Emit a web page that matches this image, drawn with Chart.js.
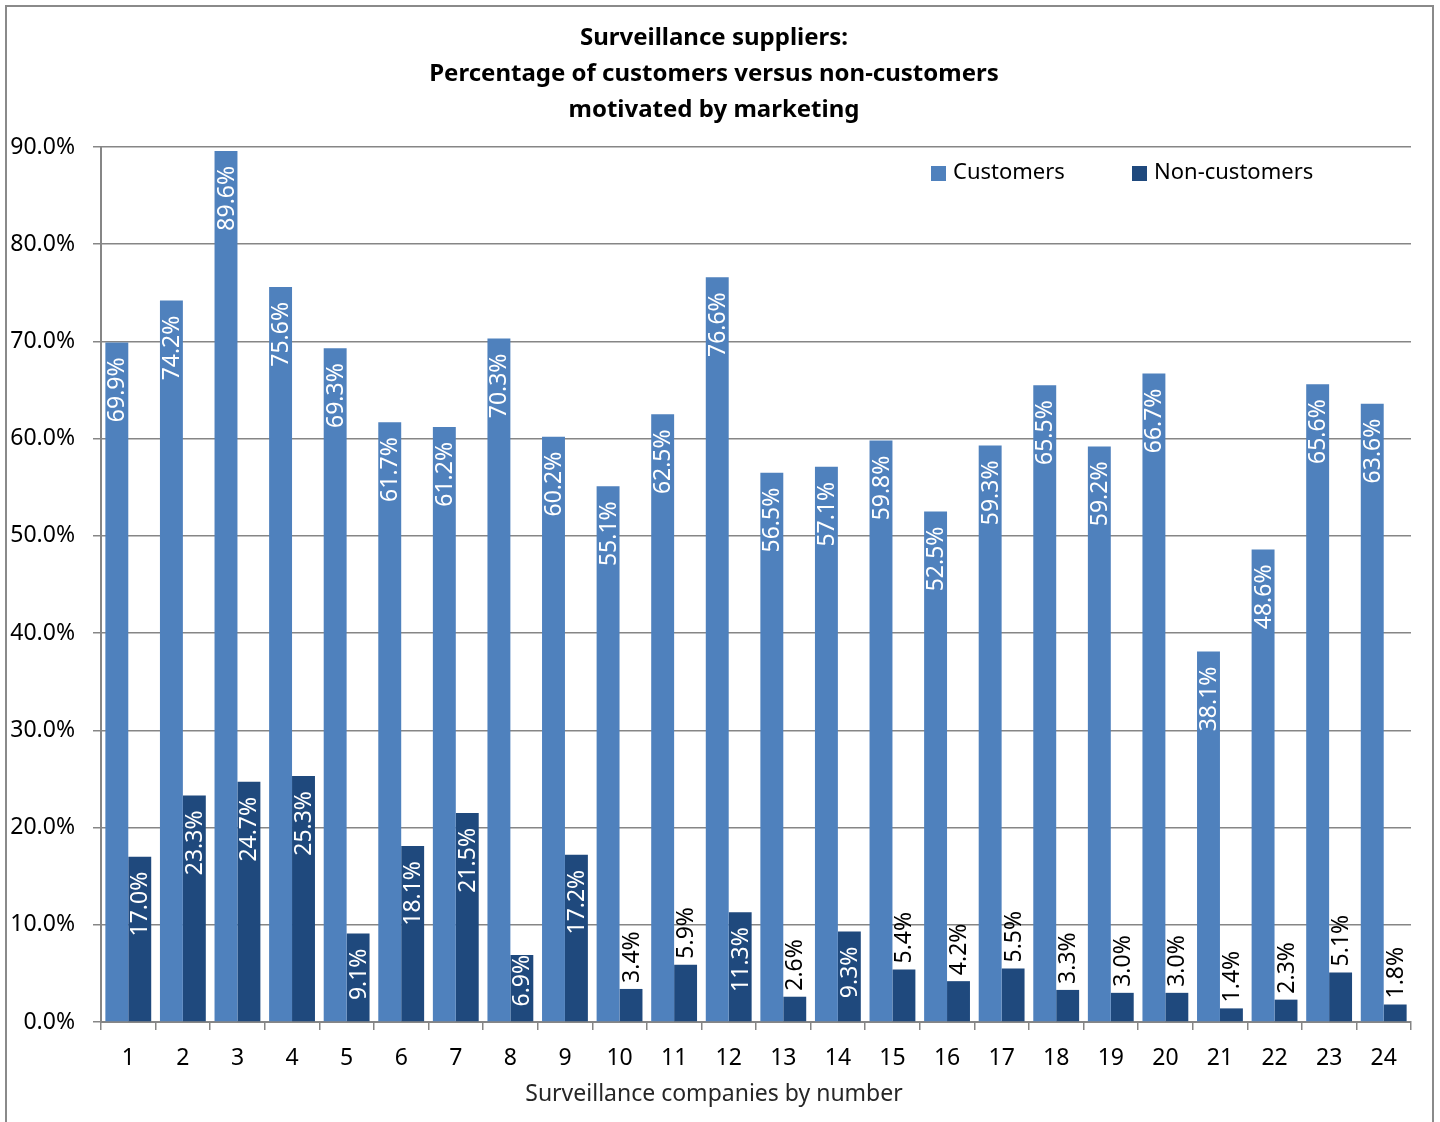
<!DOCTYPE html>
<html>
<head>
<meta charset="utf-8">
<script src="https://cdn.jsdelivr.net/npm/chart.js@4/dist/chart.umd.min.js"></script>
<style>
  html, body { margin: 0; padding: 0; background: #ffffff; }
  #wrap { width: 1440px; height: 1122px; position: relative; }
</style>
</head>
<body>
<div id="wrap"><canvas id="chart" width="1440" height="1122"></canvas></div>
<script>
// Company numbers along the x axis
const companies = ['1','2','3','4','5','6','7','8','9','10','11','12','13','14','15','16','17','18','19','20','21','22','23','24'];

// Share (%) of customers motivated by marketing
const customers = [69.9, 74.2, 89.6, 75.6, 69.3, 61.7, 61.2, 70.3, 60.2, 55.1, 62.5, 76.6,
                   56.5, 57.1, 59.8, 52.5, 59.3, 65.5, 59.2, 66.7, 38.1, 48.6, 65.6, 63.6];

// Share (%) of non-customers motivated by marketing
const nonCustomers = [17.0, 23.3, 24.7, 25.3, 9.1, 18.1, 21.5, 6.9, 17.2, 3.4, 5.9, 11.3,
                      2.6, 9.3, 5.4, 4.2, 5.5, 3.3, 3.0, 3.0, 1.4, 2.3, 5.1, 1.8];

const seriesNames = ['Customers', 'Non-customers'];
const titleLines = ['Surveillance suppliers:', 'Percentage of customers versus non-customers', 'motivated by marketing'];
const xAxisTitle = 'Surveillance companies by number';

const FONT = "'Noto Sans', 'Open Sans', sans-serif";
const GRID = '#868686';

// Outer frame around the whole chart
const framePlugin = {
  id: 'frame',
  beforeDraw(chart) {
    const ctx = chart.ctx;
    ctx.save();
    ctx.fillStyle = '#ffffff';
    ctx.fillRect(0, 0, chart.width, chart.height);
    ctx.strokeStyle = '#8a8a8a';
    ctx.lineWidth = 2;
    ctx.strokeRect(6, 6, 1427, 1140);
    ctx.restore();
  }
};

// Three-line bold heading and the category axis caption
const headingPlugin = {
  id: 'heading',
  afterDraw(chart) {
    const ctx = chart.ctx;
    ctx.save();
    ctx.font = "bold 24px " + FONT;
    ctx.fillStyle = '#000000';
    ctx.textAlign = 'center';
    ctx.textBaseline = 'middle';
    titleLines.forEach((t, i) => ctx.fillText(t, 714, 38 + i * 36));
    ctx.font = "23px " + FONT;
    ctx.fillStyle = '#262626';
    ctx.fillText(xAxisTitle, 714, 1094);
    ctx.restore();
  }
};

// Legend drawn inside the plot area, top right
const legendPlugin = {
  id: 'insideLegend',
  afterDraw(chart) {
    const ctx = chart.ctx;
    const starts = [931, 1132];
    ctx.save();
    ctx.font = "22px " + FONT;
    ctx.textAlign = 'left';
    ctx.textBaseline = 'middle';
    chart.data.datasets.forEach((ds, i) => {
      const x = starts[i];
      ctx.fillStyle = ds.backgroundColor;
      ctx.fillRect(x, 166, 15, 15);
      ctx.fillStyle = '#000000';
      ctx.fillText(ds.label, x + 22, 173);
    });
    ctx.restore();
  }
};

// Rotated value labels: inside the bar top when they fit, above it otherwise
const valueLabelPlugin = {
  id: 'valueLabels',
  afterDatasetsDraw(chart) {
    const ctx = chart.ctx;
    ctx.save();
    ctx.font = "23px " + FONT;
    ctx.textBaseline = 'middle';
    chart.data.datasets.forEach((ds, di) => {
      const meta = chart.getDatasetMeta(di);
      meta.data.forEach((bar, i) => {
        const v = ds.data[i];
        const text = v.toFixed(1) + '%';
        const w = ctx.measureText(text).width;
        const top = bar.y;
        const h = bar.base - bar.y;
        ctx.save();
        if (h >= w + 14) {
          const gap = Math.max(0, Math.min(15, h - w - 16));
          ctx.translate(bar.x + 1, top + gap);
          ctx.rotate(-Math.PI / 2);
          ctx.textAlign = 'right';
          ctx.fillStyle = '#ffffff';
        } else {
          ctx.translate(bar.x + 1, top - 6);
          ctx.rotate(-Math.PI / 2);
          ctx.textAlign = 'left';
          ctx.fillStyle = '#000000';
        }
        ctx.fillText(text, 0, 0);
        ctx.restore();
      });
    });
    ctx.restore();
  }
};

new Chart(document.getElementById('chart'), {
  type: 'bar',
  data: {
    labels: companies,
    datasets: [
      { label: seriesNames[0], data: customers, backgroundColor: '#4F81BD', borderWidth: 0 },
      { label: seriesNames[1], data: nonCustomers, backgroundColor: '#1F497D', borderWidth: 0 }
    ]
  },
  options: {
    responsive: false,
    animation: false,
    devicePixelRatio: 1,
    layout: { padding: { left: 0, top: 147, right: 29, bottom: 0 } },
    datasets: { bar: { barPercentage: 1.0, categoryPercentage: 0.84 } },
    plugins: {
      legend: { display: false },
      title: { display: false },
      tooltip: { enabled: false }
    },
    scales: {
      x: {
        afterFit(scale) { scale.height = 100; },
        grid: {
          offset: true,
          drawOnChartArea: false,
          drawTicks: true,
          tickLength: 8,
          color: GRID,
          lineWidth: 1.5
        },
        border: { display: true, color: GRID, width: 2 },
        ticks: {
          color: '#000000',
          padding: 15,
          font: { family: FONT, size: 23 },
          maxRotation: 0,
          autoSkip: false
        }
      },
      y: {
        min: 0,
        max: 90,
        afterFit(scale) { scale.width = 101; },
        grid: {
          drawOnChartArea: true,
          drawTicks: true,
          tickLength: 8,
          color: GRID,
          lineWidth: 1.5
        },
        border: { display: true, color: GRID, width: 2 },
        ticks: {
          stepSize: 10,
          color: '#000000',
          padding: 18,
          font: { family: FONT, size: 23 },
          callback: (v) => Number(v).toFixed(1) + '%'
        }
      }
    }
  },
  plugins: [framePlugin, headingPlugin, legendPlugin, valueLabelPlugin]
});
</script>
</body>
</html>
